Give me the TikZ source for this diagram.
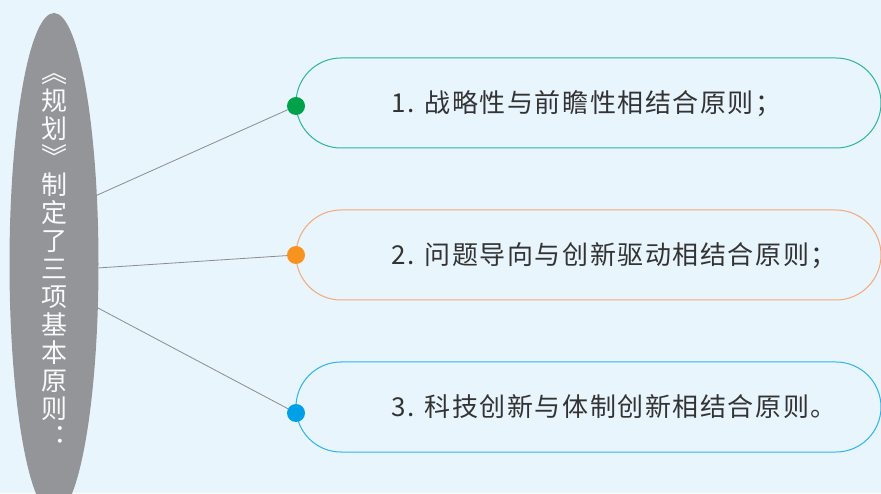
\documentclass[tikz,border=0pt]{standalone}
\usepackage{fontspec}
\setmainfont{Noto Sans CJK SC}
\newfontfamily\itemfont[LetterSpace=6]{Noto Sans CJK SC}
\usetikzlibrary{shapes.geometric,positioning}

\definecolor{bgblue}{HTML}{E8F5FC}
\definecolor{ellgray}{HTML}{939598}
\definecolor{linegray}{HTML}{8C8C8C}
\definecolor{textgray}{HTML}{333333}
\definecolor{dotgreen}{HTML}{00A14B}
\definecolor{rimgreen}{HTML}{2BB59D}
\definecolor{dotorange}{HTML}{F7931E}
\definecolor{rimorange}{HTML}{F6A878}
\definecolor{dotblue}{HTML}{00A0E9}
\definecolor{rimblue}{HTML}{2DB4EE}

\tikzset{
  principle/.style={draw, line width=1pt, rounded corners=45pt,
    minimum width=585pt, minimum height=90pt, inner sep=0pt},
  joint/.style={circle, inner sep=0pt, minimum size=18pt},
  link/.style={draw=linegray, line width=0.8pt},
  itemtext/.style={font=\itemfont\fontsize{26}{30}\selectfont, text=textgray,
    inner sep=0pt, text height=22.9pt, text depth=3.1pt},
  plantext/.style={font=\fontsize{26}{30}\selectfont, text=white!95!ellgray,
    inner sep=0pt, text height=22.9pt, text depth=3.1pt}
}

\begin{document}
\begin{tikzpicture}[x=1pt, y=1pt]
    \fill[bgblue] (0,0) rectangle (881,493);
    \useasboundingbox (0,0) rectangle (881,493);

    % left ellipse with vertical title
    \node[ellipse, fill=ellgray, minimum width=89pt, minimum height=502pt, inner sep=0pt] (plan) at (54,229) {};
    \foreach \ch [count=\i] in {︽,规,划,︾,制,定,了,三,项,基,本,原,则,︓}
        \node[plantext] (c\i) at (54, 448.5-28*\i) {\ch};

    % the three principles
    \node[principle, draw=rimgreen] (p1) at (588.5,390) {};
    \node[principle, draw=rimorange] (p2) at (588.5,238) {};
    \node[principle, draw=rimblue] (p3) at (588.5,86) {};

    \node[itemtext, right=96pt of p1.west] (t1) {1. 战略性与前瞻性相结合原则；};
    \node[itemtext, right=96pt of p2.west] (t2) {2. 问题导向与创新驱动相结合原则；};
    \node[itemtext, right=96pt of p3.west] (t3) {3. 科技创新与体制创新相结合原则。};

    \node[joint, fill=dotgreen] (j1) at (296,387) {};
    \node[joint, fill=dotorange] (j2) at (296,238) {};
    \node[joint, fill=dotblue] (j3) at (296,80) {};

    \draw[link] (plan.58) -- (j1);
    \draw[link] (plan.-5) -- (j2);
    \draw[link] (plan.-45) -- (j3);
\end{tikzpicture}
\end{document}
